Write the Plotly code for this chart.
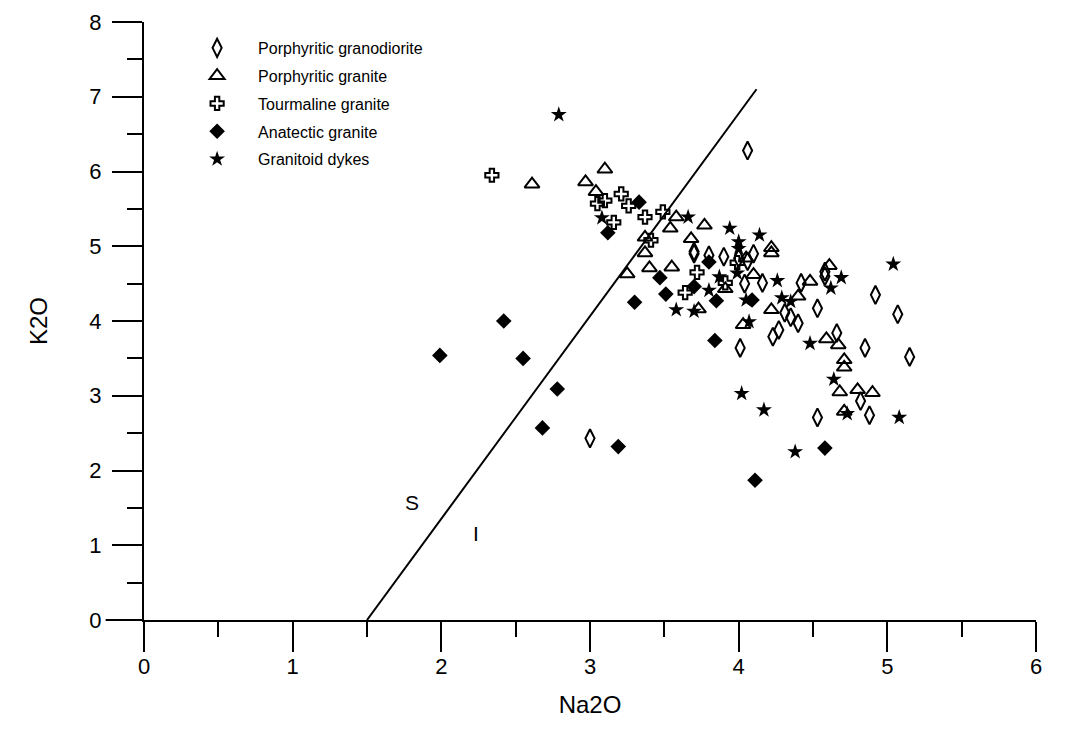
import plotly.graph_objs as go

# Na2O / K2O values
gd_na = [4.06, 3.70, 3.80, 3.90, 4.00, 4.10, 4.06, 4.04, 4.16, 4.42, 4.58, 4.58, 4.92, 4.53, 5.07,
         4.31, 4.35, 4.40, 4.27, 4.23, 4.01, 4.66, 4.85, 5.15, 4.82, 4.88, 4.53, 3.00, 3.70]
gd_k = [6.28, 4.90, 4.88, 4.86, 4.84, 4.90, 4.80, 4.50, 4.51, 4.51, 4.66, 4.60, 4.35, 4.17, 4.09,
        4.11, 4.05, 3.97, 3.88, 3.79, 3.64, 3.84, 3.64, 3.52, 2.93, 2.74, 2.71, 2.43, 4.93]

gr_na = [2.61, 3.10, 2.97, 3.04, 3.58, 3.54, 3.77, 3.37, 3.37, 3.68, 3.25, 3.40, 3.55, 3.91, 3.73,
         4.03, 4.22, 4.22, 4.61, 4.10, 4.48, 4.40, 4.22, 4.59, 4.67, 4.71, 4.71, 4.68, 4.80, 4.90,
         4.71, 4.05]
gr_k = [5.83, 6.03, 5.86, 5.73, 5.39, 5.24, 5.28, 5.12, 4.91, 5.10, 4.63, 4.71, 4.72, 4.43, 4.16,
        3.95, 4.98, 4.91, 4.74, 4.62, 4.53, 4.33, 4.15, 3.76, 3.68, 3.48, 3.38, 3.05, 3.08, 3.04,
        2.79, 4.84]

tg_na = [2.34, 3.10, 3.05, 3.21, 3.26, 3.37, 3.16, 3.49, 3.41, 3.72, 3.64, 3.91, 3.99]
tg_k = [5.95, 5.61, 5.57, 5.70, 5.54, 5.39, 5.32, 5.46, 5.08, 4.65, 4.38, 4.51, 4.78]

an_na = [3.33, 3.12, 3.47, 3.80, 3.70, 3.51, 3.30, 3.85, 2.42, 3.84, 1.99, 2.55, 2.78, 2.68, 3.19,
         4.58, 4.11, 4.09]
an_k = [5.59, 5.18, 4.58, 4.79, 4.46, 4.36, 4.25, 4.27, 4.00, 3.74, 3.54, 3.50, 3.09, 2.57, 2.32,
        2.30, 1.87, 4.28]

dk_na = [2.79, 3.08, 3.66, 3.94, 4.00, 4.00, 4.14, 3.87, 3.99, 3.80, 3.58, 3.70, 5.04, 4.69, 4.26,
         4.62, 4.29, 4.35, 4.07, 4.48, 4.64, 4.02, 4.17, 4.73, 5.08, 4.38, 4.05]
dk_k = [6.76, 5.38, 5.39, 5.24, 5.06, 4.97, 5.15, 4.59, 4.64, 4.41, 4.15, 4.13, 4.76, 4.58, 4.54,
        4.44, 4.31, 4.26, 3.99, 3.70, 3.22, 3.03, 2.81, 2.76, 2.71, 2.25, 4.28]

# S / I type boundary
line_na = [1.50, 4.12]
line_k = [0.0, 7.10]

font = "Liberation Sans, Arial, sans-serif"
fig = go.Figure()
fig.add_trace(go.Scatter(x=line_na, y=line_k, mode='lines', showlegend=False,
                         line=dict(color='black', width=2)))
fig.add_trace(go.Scatter(x=gd_na, y=gd_k, mode='markers', name='Porphyritic granodiorite', legendgroup='gd',
                         marker=dict(symbol='diamond-tall-open', size=13, color='black',
                                     line=dict(width=2, color='black'))))
fig.add_trace(go.Scatter(x=gr_na, y=gr_k, mode='markers', name='Porphyritic granite', legendgroup='gr',
                         marker=dict(symbol='triangle-up-open', size=13, color='black',
                                     line=dict(width=2, color='black'))))
fig.add_trace(go.Scatter(x=tg_na, y=tg_k, mode='markers', name='Tourmaline granite', legendgroup='tg',
                         marker=dict(symbol='cross-open', size=11, color='black',
                                     line=dict(width=2, color='black'))))
fig.add_trace(go.Scatter(x=an_na, y=an_k, mode='markers', name='Anatectic granite', legendgroup='an',
                         marker=dict(symbol='diamond', size=12, color='black')))
fig.add_trace(go.Scatter(x=dk_na, y=dk_k, mode='markers', name='Granitoid dykes', legendgroup='dk',
                         marker=dict(symbol='star', size=12, color='black')))

fig.add_annotation(x=1.80, y=1.57, text='S', showarrow=False, font=dict(family=font, size=21, color='black'))
fig.add_annotation(x=2.23, y=1.16, text='I', showarrow=False, font=dict(family=font, size=21, color='black'))

# axis lines run a bit past the origin
fig.add_shape(type='line', xref='paper', yref='paper', x0=-0.043, x1=0, y0=0, y1=0,
              line=dict(color='black', width=2))
fig.add_shape(type='line', xref='paper', yref='paper', x0=0, x1=0, y0=-0.05, y1=0,
              line=dict(color='black', width=2))

axis = dict(showgrid=False, zeroline=False, showline=True, linecolor='black', linewidth=2,
            ticks='outside', ticklen=30, tickwidth=2, tickcolor='black', dtick=1, automargin=False,
            tickfont=dict(family=font, size=22, color='black'),
            minor=dict(dtick=0.5, ticks='outside', ticklen=15, tickwidth=2, tickcolor='black'))
fig.update_xaxes(axis, range=[0, 6], tick0=0, ticklabelstandoff=-4,
                 title=dict(text='Na2O', font=dict(family=font, size=24, color='black'), standoff=18))
fig.update_yaxes(axis, range=[0, 8], tick0=0, ticklabelstandoff=6,
                 title=dict(text='K2O', font=dict(family=font, size=24, color='black'), standoff=35))
fig.update_layout(width=1068, height=742, plot_bgcolor='white', paper_bgcolor='white',
                  margin=dict(l=136, r=40, t=14, b=130),
                  legend=dict(x=0.036, y=0.985, xanchor='left', yanchor='top', bgcolor='rgba(0,0,0,0)',
                              itemwidth=72, tracegroupgap=4,
                              font=dict(family=font, size=16, color='black')))

fig.write_html("out.html")
